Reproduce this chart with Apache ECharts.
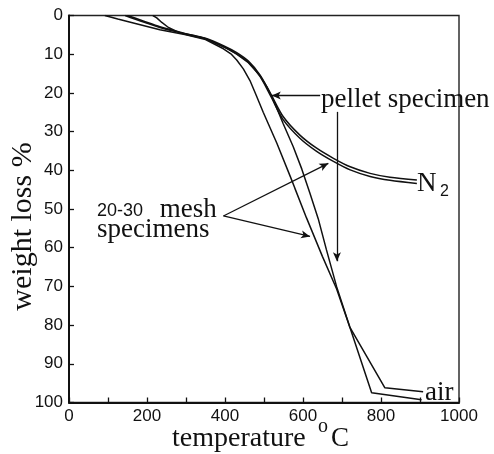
<!DOCTYPE html>
<html>
<head>
<meta charset="utf-8">
<script src="https://cdn.jsdelivr.net/npm/echarts@6/dist/echarts.min.js"></script>
<style>
  html, body { margin: 0; padding: 0; background: #fff; }
  #chart { width: 494px; height: 454px; }
</style>
</head>
<body>
<div id="chart"></div>
<script>
// Tick labels on both axes
const xTickLabels = [0, 200, 400, 600, 800, 1000];
const yTickLabels = [0, 10, 20, 30, 40, 50, 60, 70, 80, 90, 100];

// Thermogravimetric curves: [temperature °C, weight loss %]
const n2Pellet = [
  [150, 0], [190, 1.4], [233, 2.9], [300, 4.7], [350, 5.9], [400, 8.0], [430, 9.6],
  [460, 11.8], [490, 15.4], [518, 20.4], [549, 26.1], [592, 30.9], [635, 34.3],
  [678, 36.9], [721, 39.1], [772, 40.8], [823, 41.8], [892, 42.5]
];
const n2Mesh = [
  [144, 0], [185, 1.5], [233, 3.1], [300, 4.8], [350, 6.0], [400, 8.3], [430, 9.9],
  [460, 12.1], [490, 15.8], [518, 21.0], [549, 26.9], [592, 31.7], [635, 35.1],
  [678, 37.7], [721, 39.9], [772, 41.6], [823, 42.6], [892, 43.4]
];
const airPellet = [
  [215, 0], [225, 0.6], [238, 1.8], [255, 3.1], [280, 4.3], [300, 4.9], [350, 6.0],
  [400, 8.2], [430, 10.0], [460, 12.2], [490, 15.6], [507, 18.4], [524, 21.8],
  [549, 27.9], [575, 33.9], [597, 39.7], [618, 46.0], [639, 52.5], [660, 60.5],
  [686, 70.0], [720, 80.5], [776, 97.5], [904, 99.3]
];
const airMesh = [
  [92, 0], [125, 0.9], [160, 1.8], [233, 3.7], [300, 5.0], [350, 6.2], [396, 8.6],
  [415, 9.9], [430, 11.5], [447, 13.8], [464, 16.8], [480, 20.6], [498, 25.0],
  [533, 33.0], [567, 41.5], [579, 44.6], [609, 52.3], [650, 62.3], [686, 70.6],
  [720, 80.5], [810, 96.2], [908, 97.2]
];

// Annotation arrows: [from, to] in data units
const pelletArrows = [
  [[644, 20.7], [520, 20.7]],
  [[687, 24.9], [687, 63.5]]
];
const meshArrows = [
  [[396, 51.8], [665, 38.2]],
  [[396, 51.8], [618, 57.1]]
];

const INK = '#111';
const SERIF = 'Liberation Serif';
const SANS = 'Liberation Sans';

const chart = echarts.init(document.getElementById('chart'), null, { renderer: 'canvas' });

function curve(name, data, smooth) {
  return {
    name, type: 'line', data, showSymbol: false, smooth, silent: true,
    lineStyle: { color: INK, width: 1.5 }, z: 3
  };
}

function arrowPairs(list) {
  return list.map(([a, b]) => [{ coord: a }, { coord: b }]);
}

chart.setOption({
  animation: false,
  backgroundColor: '#fff',
  grid: {
    left: 69, top: 15.5, width: 390, height: 387,
    show: true, borderColor: '#222', borderWidth: 1.4, backgroundColor: 'transparent'
  },
  xAxis: {
    type: 'value', min: 0, max: 1000, interval: 100,
    axisLine: { show: true, onZero: false, lineStyle: { color: INK, width: 2 } },
    axisTick: { show: true, inside: true, length: 5, lineStyle: { color: INK, width: 1.3 } },
    axisLabel: {
      fontFamily: SANS, fontSize: 17, color: INK, margin: 5,
      formatter: v => (xTickLabels.includes(v) ? String(v) : '')
    },
    splitLine: { show: false }
  },
  yAxis: {
    type: 'value', inverse: true, min: 0, max: 100, interval: 10,
    axisLine: { show: true, onZero: false, lineStyle: { color: INK, width: 2 } },
    axisTick: { show: true, inside: true, length: 5, lineStyle: { color: INK, width: 1.3 } },
    axisLabel: {
      fontFamily: SANS, fontSize: 17, color: INK, margin: 6,
      formatter: v => (yTickLabels.includes(v) ? String(v) : '')
    },
    splitLine: { show: false }
  },
  series: [
    curve('N2 pellet', n2Pellet, 0.3),
    curve('N2 mesh', n2Mesh, 0.3),
    curve('air pellet', airPellet, false),
    curve('air mesh', airMesh, false),
    {
      name: 'annotations', type: 'line', data: [], silent: true,
      markLine: {
        silent: true, animation: false,
        symbol: ['none', 'arrow'], symbolSize: [6, 9],
        label: { show: false },
        lineStyle: { color: INK, width: 1.3, type: 'solid' },
        data: arrowPairs(pelletArrows).concat(arrowPairs(meshArrows))
      }
    }
  ]
});

// Text labels anchored in data units
function at(t, w) { return chart.convertToPixel({ gridIndex: 0 }, [t, w]); }
function label(pos, text, family, size, extra) {
  return Object.assign({
    type: 'text', x: pos[0], y: pos[1], z: 10, silent: true,
    style: { text, fontFamily: family, fontSize: size, fill: INK, align: 'left', verticalAlign: 'middle' }
  }, extra || {});
}

const graphics = [
  label(at(646, 21.7), 'pellet specimen', SERIF, 27),
  label(at(72, 50.5), '20-30', SANS, 18),
  label(at(233, 50.2), 'mesh', SERIF, 27),
  label(at(72, 55.5), 'specimens', SERIF, 27),
  label(at(892, 43.5), 'N', SERIF, 27),
  label(at(951, 45.6), '2', SANS, 16),
  label(at(913, 97.5), 'air', SERIF, 27),
  // axis titles
  label([172, 439], 'temperature', SERIF, 28),
  label([318, 427], 'o', SERIF, 20),
  label([331, 439], 'C', SERIF, 27),
  {
    type: 'text', x: 23, y: 226.5, rotation: Math.PI / 2, z: 10, silent: true,
    style: { text: 'weight loss %', fontFamily: SERIF, fontSize: 30, fill: INK, align: 'center', verticalAlign: 'middle' }
  }
];

chart.setOption({ graphic: graphics });
</script>
</body>
</html>
